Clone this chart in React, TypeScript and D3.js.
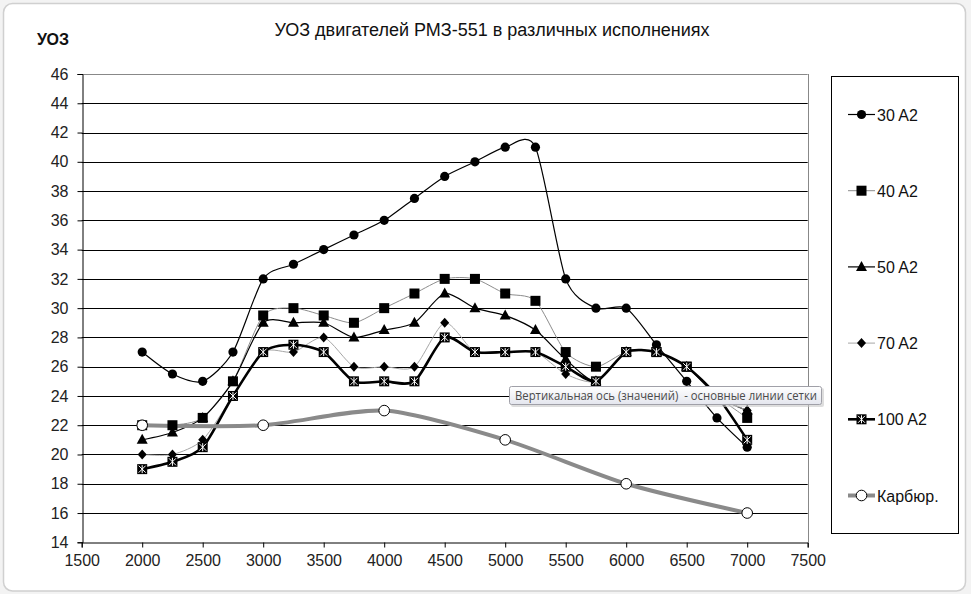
import React, { useEffect, useRef } from 'react';
import * as d3 from 'd3';

// engine speed, rpm
const rpm = [2000, 2250, 2500, 2750, 3000, 3250, 3500, 3750, 4000, 4250, 4500, 4750, 5000, 5250, 5500, 5750, 6000, 6250, 6500, 6750, 7000];

const s30 = [27, 25.5, 25, 27, 32, 33, 34, 35, 36, 37.5, 39, 40, 41, 41, 32, 30, 30, 27.5, 25, 22.5, 20.5];
const s40 = [22, 22, 22.5, 25, 29.5, 30, 29.5, 29, 30, 31, 32, 32, 31, 30.5, 27, 26, 27, 27, 26, 24, 22.5];
const s50 = [21, 21.5, 22.5, 25, 29, 29, 29, 28, 28.5, 29, 31, 30, 29.5, 28.5, 26.5, 25, 27, 27, 26, 24, 23];
const s70 = [20, 20, 21, 24, 27, 27, 28, 26, 26, 26, 29, 27, 27, 27, 25.5, 25, 27, 27, 26, 24, 23];
const s100 = [19, 19.5, 20.5, 24, 27, 27.5, 27, 25, 25, 25, 28, 27, 27, 27, 26, 25, 27, 27, 26, 24, 21];

const carbRpm = [2000, 3000, 4000, 5000, 6000, 7000];
const carb = [22, 22, 23, 21, 18, 16];

const xTicks = [1500, 2000, 2500, 3000, 3500, 4000, 4500, 5000, 5500, 6000, 6500, 7000, 7500];
const yTicks = [14, 16, 18, 20, 22, 24, 26, 28, 30, 32, 34, 36, 38, 40, 42, 44, 46];

type Marker = 'circle' | 'square' | 'triangle' | 'diamond' | 'cross' | 'open';

const series: { name: string; xs: number[]; ys: number[]; stroke: string; width: number; marker: Marker }[] = [
  { name: '30 A2', xs: rpm, ys: s30, stroke: '#000', width: 1.2, marker: 'circle' },
  { name: '40 A2', xs: rpm, ys: s40, stroke: '#8c8c8c', width: 1, marker: 'square' },
  { name: '50 A2', xs: rpm, ys: s50, stroke: '#000', width: 1.2, marker: 'triangle' },
  { name: '70 A2', xs: rpm, ys: s70, stroke: '#a6a6a6', width: 1, marker: 'diamond' },
  { name: '100 A2', xs: rpm, ys: s100, stroke: '#000', width: 2.6, marker: 'cross' },
  { name: 'Карбюр.', xs: carbRpm, ys: carb, stroke: '#8a8a8a', width: 4, marker: 'open' },
];

const font = '"Liberation Sans", Arial, sans-serif';

function drawMarker(g: any, type: Marker, cx: number, cy: number) {
  if (type === 'circle') {
    g.append('circle').attr('cx', cx).attr('cy', cy).attr('r', 4.6).attr('fill', '#000');
  } else if (type === 'square') {
    g.append('rect').attr('x', cx - 5).attr('y', cy - 5).attr('width', 10).attr('height', 10).attr('fill', '#000');
  } else if (type === 'triangle') {
    g.append('path').attr('d', `M${cx},${cy - 6}L${cx + 5.5},${cy + 4}L${cx - 5.5},${cy + 4}Z`).attr('fill', '#000');
  } else if (type === 'diamond') {
    g.append('path').attr('d', `M${cx},${cy - 5}L${cx + 4.5},${cy}L${cx},${cy + 5}L${cx - 4.5},${cy}Z`).attr('fill', '#000');
  } else if (type === 'cross') {
    g.append('rect').attr('x', cx - 5).attr('y', cy - 5).attr('width', 10).attr('height', 10).attr('fill', '#000');
    g.append('path')
      .attr('d', `M${cx - 3.5},${cy - 3.5}L${cx + 3.5},${cy + 3.5}M${cx + 3.5},${cy - 3.5}L${cx - 3.5},${cy + 3.5}M${cx},${cy - 4}L${cx},${cy + 4}`)
      .attr('stroke', '#fff').attr('stroke-width', 1);
  } else {
    g.append('circle').attr('cx', cx).attr('cy', cy).attr('r', 5.3).attr('fill', '#fff').attr('stroke', '#000').attr('stroke-width', 1);
  }
}

const App: React.FC = () => {
  const svgRef = useRef<SVGSVGElement>(null);

  useEffect(() => {
    const svg = d3.select(svgRef.current);
    svg.selectAll('*').remove();

    // chart frame
    svg.append('rect').attr('width', 971).attr('height', 594).attr('fill', '#f3f3f3');
    svg.append('rect')
      .attr('x', 3.5).attr('y', 3.5).attr('width', 962).attr('height', 587.5)
      .attr('rx', 9).attr('fill', '#fff').attr('stroke', '#d0d0d0').attr('stroke-width', 1.5);

    const x = d3.scaleLinear().domain([1500, 7500]).range([81.7, 807.7]);
    const y = d3.scaleLinear().domain([14, 46]).range([542.3, 74]);

    // gridlines
    svg.append('g').selectAll('line')
      .data(yTicks.slice(1))
      .enter()
      .append('line')
      .attr('x1', x(1500)).attr('x2', x(7500))
      .attr('y1', (d: number) => Math.round(y(d)) + 0.5).attr('y2', (d: number) => Math.round(y(d)) + 0.5)
      .attr('stroke', (d: number) => (d === 46 ? '#888' : '#000'))
      .attr('stroke-width', 1);
    // right border of plot area
    svg.append('line')
      .attr('x1', Math.round(x(7500)) + 0.5).attr('x2', Math.round(x(7500)) + 0.5)
      .attr('y1', y(46)).attr('y2', y(14))
      .attr('stroke', '#888');

    // axes
    const yAxis = svg.append('g')
      .attr('transform', `translate(${Math.round(x(1500)) + 0.5},0)`)
      .call(d3.axisLeft(y).tickValues(yTicks).tickSize(5).tickPadding(9).tickFormat(d3.format('d')));
    yAxis.select('.domain').attr('stroke', '#000');
    yAxis.selectAll('text').style('font-family', font).style('font-size', '16px').attr('fill', '#222');

    const xAxis = svg.append('g')
      .attr('transform', `translate(0,${Math.round(y(14)) + 0.5})`)
      .call(d3.axisBottom(x).tickValues(xTicks).tickSize(5).tickPadding(7).tickFormat(d3.format('d')));
    xAxis.select('.domain').attr('stroke', '#000');
    xAxis.selectAll('text').style('font-family', font).style('font-size', '16px').attr('fill', '#222');

    // lines
    const curve = d3.curveCardinal.tension(0.25);
    series.forEach((s) => {
      const pts = s.xs.map((v, i) => [x(v), y(s.ys[i])] as [number, number]);
      svg.append('path')
        .attr('d', d3.line().curve(curve)(pts) as string)
        .attr('fill', 'none')
        .attr('stroke', s.stroke)
        .attr('stroke-width', s.width);
    });
    series.forEach((s) => {
      const g = svg.append('g');
      s.xs.forEach((v, i) => drawMarker(g, s.marker, x(v), y(s.ys[i])));
    });

    // titles
    svg.append('text')
      .attr('x', 492).attr('y', 36)
      .attr('text-anchor', 'middle')
      .style('font-family', font).style('font-size', '18px').attr('fill', '#111')
      .text('УОЗ двигателей РМЗ-551 в различных исполнениях');
    svg.append('text')
      .attr('x', 37).attr('y', 45)
      .style('font-family', font).style('font-size', '16px').style('font-weight', 'bold').attr('fill', '#111')
      .text('УОЗ');

    // legend
    svg.append('rect')
      .attr('x', 831.5).attr('y', 76.5).attr('width', 127).attr('height', 457)
      .attr('fill', '#fff').attr('stroke', '#000').attr('stroke-width', 1);
    series.forEach((s, i) => {
      const ly = 114.5 + i * 76.2;
      const lg = svg.append('g');
      lg.append('line')
        .attr('x1', 848).attr('x2', 875).attr('y1', ly).attr('y2', ly)
        .attr('stroke', s.stroke).attr('stroke-width', s.width);
      drawMarker(lg, s.marker, 861.5, ly);
      lg.append('text')
        .attr('x', 877).attr('y', ly + 6)
        .style('font-family', font).style('font-size', '16px').attr('fill', '#111')
        .text(s.name);
    });

    // hover tooltip shown in the screenshot
    const defs = svg.append('defs');
    const grad = defs.append('linearGradient').attr('id', 'tipGrad').attr('x1', 0).attr('x2', 0).attr('y1', 0).attr('y2', 1);
    grad.append('stop').attr('offset', '0%').attr('stop-color', '#ffffff');
    grad.append('stop').attr('offset', '100%').attr('stop-color', '#e4e6ee');
    svg.append('rect')
      .attr('x', 511).attr('y', 388).attr('width', 313).attr('height', 19).attr('rx', 2)
      .attr('fill', '#c8c8c8').attr('opacity', 0.6);
    svg.append('rect')
      .attr('x', 509.5).attr('y', 386.5).attr('width', 312).attr('height', 18).attr('rx', 2)
      .attr('fill', 'url(#tipGrad)').attr('stroke', '#a0a0a8');
    svg.append('text')
      .attr('x', 515).attr('y', 400)
      .attr('textLength', 302).attr('lengthAdjust', 'spacingAndGlyphs')
      .style('white-space', 'pre')
      .style('font-family', '"Open Sans", "DejaVu Sans", sans-serif').style('font-size', '12px').attr('fill', '#4a4a4a')
      .text('Вертикальная ось (значений)  - основные линии сетки');
  }, []);

  return (
    <svg
      ref={svgRef}
      width={971}
      height={594}
      style={{ position: 'absolute', left: 0, top: 0, background: '#fff' }}
    />
  );
};

export default App;
